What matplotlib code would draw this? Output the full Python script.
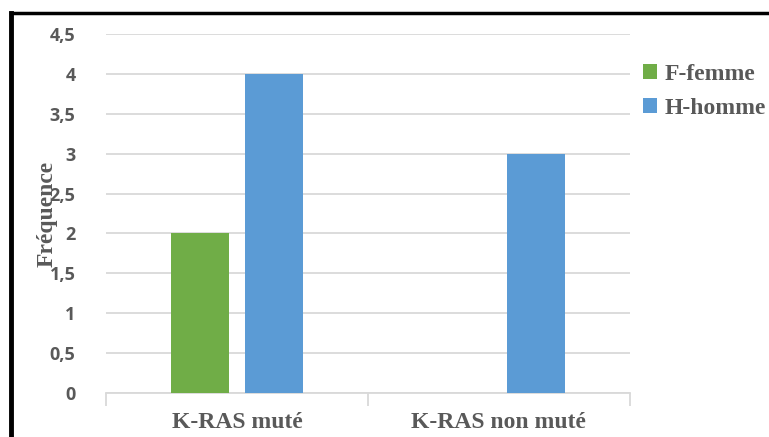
import matplotlib.pyplot as plt
from matplotlib.lines import Line2D
import numpy as np

# ---------- data ----------
categories = ['K-RAS muté', 'K-RAS non muté']
femme = [2, 0]
homme = [4, 3]
series_names = ['F-femme', 'H-homme']
yticks = [0, 0.5, 1, 1.5, 2, 2.5, 3, 3.5, 4, 4.5]

green = '#70AD47'
blue = '#5B9BD5'
txt = '#595959'
grid = '#D9D9D9'

fig = plt.figure(figsize=(7.69, 4.37), dpi=100)
ax = fig.add_axes([0.138, 0.1007, 0.681, 0.8213])

x = np.arange(len(categories))
w = 0.221
off = 0.141
ax.bar(x - off, femme, w, color=green, label=series_names[0], zorder=3)
ax.bar(x + off, homme, w, color=blue, label=series_names[1], zorder=3)

ax.set_xlim(-0.5, 1.5)
ax.set_ylim(0, 4.5)
ax.set_yticks(yticks)
ax.set_yticklabels([('%g' % v).replace('.', ',') for v in yticks],
                   fontfamily='Open Sans', fontweight='bold', fontsize=13,
                   color=txt)
ax.tick_params(axis='y', length=0, pad=22)
ax.yaxis.grid(True, color=grid, linewidth=1.3, zorder=0)

# category ticks sit between the groups, labels in the middle
ax.set_xticks([-0.5, 0.5, 1.5])
ax.set_xticklabels([])
ax.tick_params(axis='x', length=9, width=1.3, color=grid)
for i, c in enumerate(categories):
    ax.text(i, -0.37, c, ha='center', va='center', fontfamily='Liberation Serif',
            fontweight='bold', fontsize=17, color=txt)

for s in ['top', 'right', 'left']:
    ax.spines[s].set_visible(False)
ax.spines['bottom'].set_color(grid)
ax.spines['bottom'].set_linewidth(1.3)

fig.text(0.061, 0.51, 'Fréquence', rotation=90, ha='center', va='center',
         fontfamily='Liberation Serif', fontweight='bold', fontsize=17,
         color=txt)

leg = ax.legend(loc='upper left', bbox_to_anchor=(0.985, 0.975), frameon=False,
                prop={'family': 'Liberation Serif', 'weight': 'bold', 'size': 17},
                handlelength=0.6, handleheight=0.6, handletextpad=0.3,
                labelspacing=0.55)
for t in leg.get_texts():
    t.set_color(txt)

# frame lines at the top and left of the figure
fig.add_artist(Line2D([0.0143, 1.0], [0.9703, 0.9703], color='black', linewidth=2.5))
fig.add_artist(Line2D([0.0143, 0.0143], [0.0, 0.9703], color='black', linewidth=3.5))

fig.savefig('out.png', dpi=100)
